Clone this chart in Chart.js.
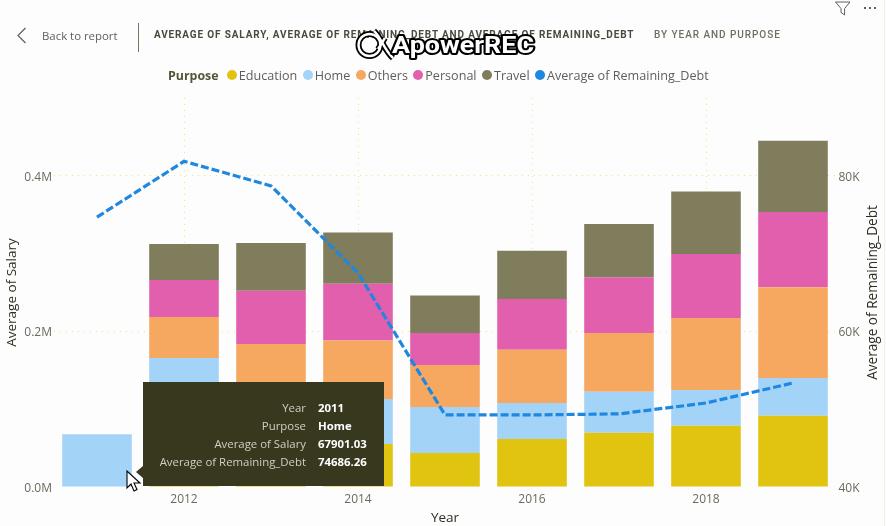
<!DOCTYPE html>
<html><head><meta charset="utf-8">
<script src="https://cdn.jsdelivr.net/npm/chart.js@4"></script>
<style>
html,body{margin:0;padding:0;background:#fdfdfe;overflow:hidden}
#wrap{position:relative;width:886px;height:526px;font-family:"Open Sans",sans-serif}
canvas{position:absolute;left:0;top:0}
.abs{position:absolute;white-space:nowrap}
#back{left:42px;top:28px;font-size:11.4px;color:#605e5c}
#sep{left:138px;top:23px;width:1px;height:29px;background:#77775f}
.ttl{top:29px;font:700 10px Roboto,sans-serif;letter-spacing:.855px;color:#4a4a3c}
.ttl.sub{font-weight:500;color:#6f6f5f;letter-spacing:.95px}
#legend{left:168px;top:66px;height:18px;display:flex;align-items:center;font-size:12.6px;color:#605e5c}
#legend b{margin-right:8.5px;color:#55553a;font-size:12.4px}
#legend .d{width:10px;height:10px;border-radius:50%;margin-right:1.8px}
#legend .t{margin-right:5.6px}
#tip{left:143px;top:382px;width:241px;height:104px;background:#38381f;color:#fff;font-size:11.4px}
#tip:before{content:"";position:absolute;left:-7px;top:84px;border:6px solid transparent;border-left:0;border-right:7px solid #38381f}
#tip .r{position:absolute;left:0;width:241px;height:18px;line-height:18px}
#tip .k{position:absolute;right:78px;color:#cfcfc4}
#tip .v{position:absolute;left:175px;font-weight:700}
svg.abs{overflow:visible}
</style></head>
<body><div id="wrap">
<canvas id="c" width="886" height="526" style="width:886px;height:526px"></canvas>
<svg class="abs" style="left:0;top:0" width="886" height="526">
  <path d="M25.5 28 L18 35.5 L25.5 43" fill="none" stroke="#605e5c" stroke-width="1.2"/>
  <path d="M835.5 2 H850 L844.6 8.5 V15 L841 12.5 V8.5 Z" fill="none" stroke="#605e5c" stroke-width="1"/>
  <g fill="#605e5c"><rect x="864" y="7" width="2" height="2"/><rect x="869" y="7" width="2" height="2"/><rect x="874" y="7" width="2" height="2"/></g>
  <rect x="884" y="0" width="1" height="526" fill="#f1f1e6"/>
</svg>
<div class="abs" id="back">Back to report</div>
<div class="abs" id="sep"></div>
<div class="abs ttl" style="left:154px">AVERAGE OF SALARY, AVERAGE OF REMAINING_DEBT AND AVERAGE OF REMAINING_DEBT</div>
<div class="abs ttl sub" style="left:654px">BY YEAR AND PURPOSE</div>
<div class="abs" id="legend"></div>
<div class="abs" id="tip"></div>
<svg class="abs" style="left:0;top:0" width="886" height="526">
  <g fill="none" stroke="#000" stroke-width="6">
    <circle cx="369.5" cy="45" r="11"/><path d="M374 31 C381 37 384 50 393 58"/><path d="M385 38 L378 49"/>
  </g>
  <g fill="none" stroke="#fff" stroke-width="2.4">
    <circle cx="369.5" cy="45" r="11"/><path d="M374 31 C381 37 384 50 393 58"/><path d="M385 38 L378 49"/>
  </g>
  <text x="392" y="53" font-family="Roboto,sans-serif" font-weight="700" font-size="24" fill="#fff" stroke="#000" stroke-width="4" stroke-linejoin="round" paint-order="stroke" textLength="142" lengthAdjust="spacingAndGlyphs">ApowerREC</text>
  <path d="M127 471 V488 L131 484 L134 491 L137 489.5 L134 483 L140 483 Z" fill="#fff" stroke="#000" stroke-width="1.1"/>
</svg>
</div>
<script>
const years = ["2011","2012","2013","2014","2015","2016","2017","2018","2019"];
const tickYears = ["2012","2014","2016","2018"];
const education = [null,77200,60400,55300,43700,61700,69800,78800,91700];
const home      = [67901.03,88700,54000,57900,59200,46300,52700,45900,48500];
const others    = [null,52700,69400,75100,54000,68500,75500,92600,116600];
const personal  = [null,47600,68500,72800,41200,65200,71600,82300,96800];
const travel    = [null,46300,61300,66000,48000,62100,68500,80100,91300];
const remainingDebt = [74686.26,81860,78710,67520,49260,49260,49400,50800,53370];
const salaryTicks = [0,200000,400000];
const debtTicks = [40000,60000,80000];
const purposes = ["Education","Home","Others","Personal","Travel"];
const lineName = "Average of Remaining_Debt";
const colors = ["#e1c410","#a4d3f8","#f6a861","#e25fae","#807d5c"];
const lineColor = "#1e88e0";
const tipKeys = ["Year","Purpose","Average of Salary","Average of Remaining_Debt"];
const tipVals = ["2011","Home","67901.03","74686.26"];

const series = [education,home,others,personal,travel];
const GRID = "#ece77c";
const axisFont = {family:'"Open Sans",sans-serif',size:12};
const titleFont = {family:'"Open Sans",sans-serif',size:13.5};
const tickColor = "#6a6a5c", titleColor = "#2e2e20";

const rightTitle = {id:"rightTitle",afterDraw(chart){
  const a=chart.chartArea,ctx=chart.ctx;
  ctx.save();
  ctx.translate(873,(a.top+a.bottom)/2);
  ctx.rotate(-Math.PI/2);
  ctx.font='13.6px "Open Sans",sans-serif';
  ctx.fillStyle=titleColor;ctx.textAlign="center";ctx.textBaseline="middle";
  ctx.fillText(lineName,0,0);
  ctx.restore();
}};

new Chart(document.getElementById("c"),{
  plugins:[rightTitle],
  data:{labels:years,datasets:[
    {type:"line",label:lineName,data:remainingDebt,yAxisID:"y1",borderColor:lineColor,borderWidth:3.2,
     borderDash:[8,3],pointRadius:0,tension:0,fill:false,order:0},
    ...purposes.map((p,i)=>({type:"bar",label:p,data:series[i],yAxisID:"y",backgroundColor:colors[i],
      categoryPercentage:0.8,barPercentage:1,stack:"s",order:1}))
  ]},
  options:{responsive:false,animation:false,devicePixelRatio:1,
    layout:{padding:{left:0,right:0,top:98,bottom:0}},
    plugins:{legend:{display:false},tooltip:{enabled:false}},
    scales:{
      x:{stacked:true,offset:true,
        afterFit(s){s.height=39;},
        grid:{offset:false,drawTicks:false,lineWidth:1,
          color:c=>tickYears.includes(years[c.index])?GRID:"transparent"},
        border:{display:false,dash:[1,5]},
        ticks:{autoSkip:false,maxRotation:0,padding:5,color:tickColor,font:axisFont,
          callback(v){const l=this.getLabelForValue(v);return tickYears.includes(l)?l:"";}},
        title:{display:true,text:"Year",color:titleColor,font:titleFont,padding:{top:0,bottom:0}}
      },
      y:{stacked:true,position:"left",min:0,max:500000,
        afterFit(s){s.width=53.5;},
        afterBuildTicks(s){s.ticks=salaryTicks.map(v=>({value:v}));},
        grid:{drawTicks:false,color:c=>c.tick.value===0?"transparent":GRID},
        border:{display:false,dash:[1,5]},
        ticks:{padding:1.5,labelOffset:1.5,color:tickColor,font:axisFont,callback:v=>(v/1e6).toFixed(1)+"M"},
        title:{display:true,text:"Average of Salary",color:titleColor,font:titleFont,padding:{top:4.5,bottom:0}}
      },
      y1:{position:"right",min:40000,max:90000,
        afterFit(s){s.width=49.5;},
        afterBuildTicks(s){s.ticks=debtTicks.map(v=>({value:v}));},
        grid:{display:false,drawTicks:false},border:{display:false},
        ticks:{padding:2,labelOffset:1.5,color:tickColor,font:axisFont,callback:v=>(v/1000)+"K"}
      }
    }
  }
});

const lg=document.getElementById("legend");
lg.innerHTML="<b>Purpose</b>"+purposes.map((p,i)=>`<span class="d" style="background:${colors[i]}"></span><span class="t">${p}</span>`).join("")
  +`<span class="d" style="background:${lineColor}"></span><span class="t">${lineName}</span>`;
document.getElementById("tip").innerHTML=tipKeys.map((k,i)=>`<div class="r" style="top:${17+i*18}px"><span class="k">${k}</span><span class="v">${tipVals[i]}</span></div>`).join("");
</script>
</body></html>
